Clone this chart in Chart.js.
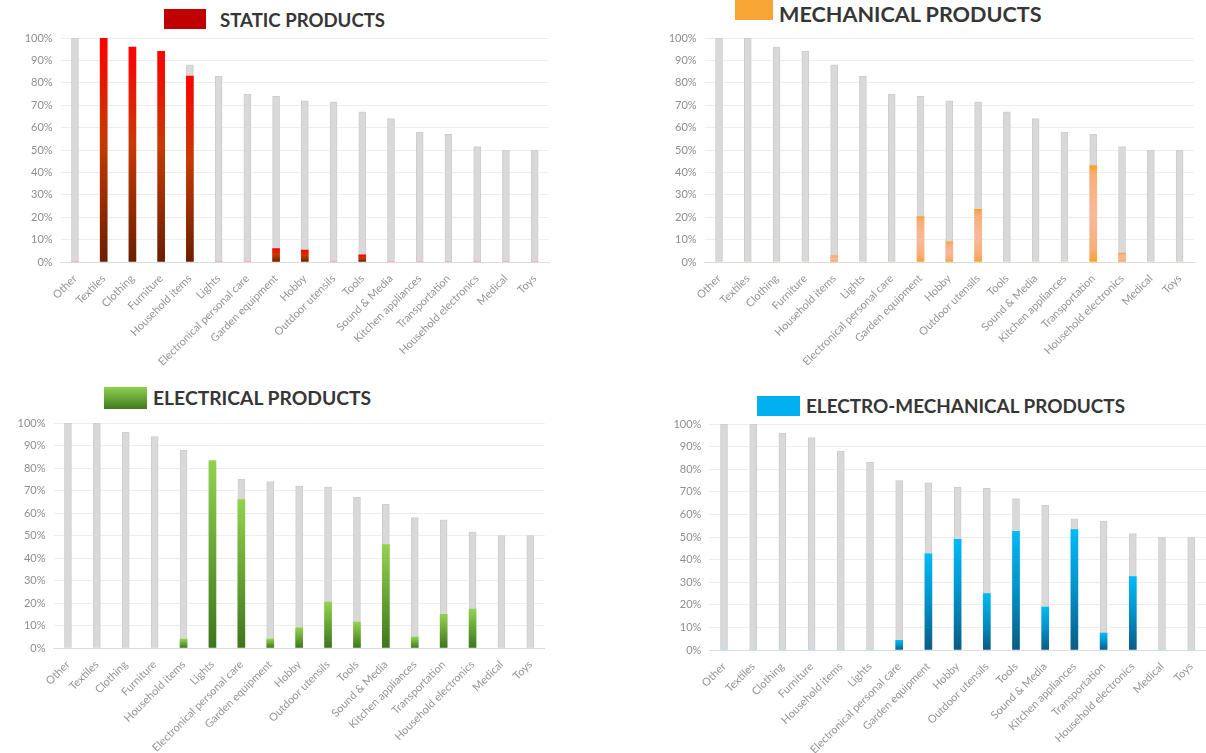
<!DOCTYPE html>
<html>
<head>
<meta charset="utf-8">
<script src="https://cdn.jsdelivr.net/npm/chart.js@4"></script>
<style>
  html, body { margin: 0; padding: 0; background: #fff; }
  body { width: 1206px; height: 753px; position: relative; overflow: hidden; font-family: Lato, sans-serif; }
  .panel { position: absolute; }
  .title { position: absolute; font-family: Lato, sans-serif; font-weight: bold; color: #363636; white-space: nowrap; line-height: 20px; }
  .box { position: absolute; }
</style>
</head>
<body>
<div class="box" style="left:164px;top:9px;width:42px;height:20px;background:#c00000;"></div>
<div class="title" style="left:220px;top:10px;font-size:18.6px;">STATIC PRODUCTS</div>
<div class="box" style="left:735px;top:0px;width:38px;height:20px;background:#f7a535;"></div>
<div class="title" style="left:779px;top:4px;font-size:21.6px;">MECHANICAL PRODUCTS</div>
<div class="box" style="left:104px;top:387px;width:43px;height:22px;background:linear-gradient(#8fd14f,#3f7a1f);"></div>
<div class="title" style="left:153px;top:388px;font-size:19.3px;">ELECTRICAL PRODUCTS</div>
<div class="box" style="left:757px;top:396px;width:43px;height:20px;background:#00b0f0;"></div>
<div class="title" style="left:806px;top:396px;font-size:18.9px;">ELECTRO-MECHANICAL PRODUCTS</div>

<div class="panel" style="left:0px;top:0px;width:560px;height:395px;"><canvas id="staticChart"></canvas></div>
<div class="panel" style="left:600px;top:0px;width:606px;height:395px;"><canvas id="mechChart"></canvas></div>
<div class="panel" style="left:0px;top:380px;width:560px;height:373px;"><canvas id="elecChart"></canvas></div>
<div class="panel" style="left:600px;top:380px;width:606px;height:373px;"><canvas id="emChart"></canvas></div>

<script>
const categories = ["Other", "Textiles", "Clothing", "Furniture", "Household items", "Lights",
  "Electronical personal care", "Garden equipment", "Hobby", "Outdoor utensils", "Tools",
  "Sound & Media", "Kitchen appliances", "Transportation", "Household electronics", "Medical", "Toys"];

// overall share per category (gray bars)
const totalShare = [100, 100, 96, 94, 88, 83, 75, 74, 72, 71.5, 67, 64, 58, 57, 51.5, 50, 50];

const staticShare = [0, 100, 96, 94, 83, 0, 0, 6, 5.3, 0, 3.2, 0, 0, 0, 0, 0, 0];
const mechanicalShare = [0, 0, 0, 0, 2.8, 0, 0, 20.3, 9, 23.5, 0, 0, 0, 43, 4, 0, 0];
const electricalShare = [0, 0, 0, 0, 4, 83.3, 66, 4, 9, 20.4, 11.5, 46, 4.8, 15, 17.3, 0, 0];
const electroMechShare = [0, 0, 0, 0, 0, 0, 4.3, 42.5, 49, 25, 52.5, 19, 53.3, 7.5, 32.5, 0, 0];

const yTicks = [0, 10, 20, 30, 40, 50, 60, 70, 80, 90, 100];

// gradient along each bar, top -> bottom
const barGradient = (stops) => (context) => {
  const chart = context.chart;
  const { ctx, chartArea } = chart;
  if (!chartArea) return stops[0][1];
  const v = context.raw;
  if (!v) return stops[0][1];
  const y = chart.scales.y;
  const top = y.getPixelForValue(v);
  const bottom = y.getPixelForValue(0);
  if (bottom - top < 1) return stops[0][1];
  const g = ctx.createLinearGradient(0, top, 0, bottom);
  stops.forEach(([p, c]) => g.addColorStop(p, c));
  return g;
};

const makeChart = (id, values, stops, box) => {
  const tickFont = { family: "Lato", size: 11 };
  return new Chart(document.getElementById(id), {
    type: "bar",
    data: {
      labels: categories,
      datasets: [
        {
          data: values,
          backgroundColor: barGradient(stops),
          borderWidth: 0,
          barThickness: 7,
          grouped: false,
        },
        {
          data: totalShare,
          backgroundColor: "#d9d9d9",
          borderColor: "#cdcdcd",
          borderWidth: 1,
          barThickness: 7,
          grouped: false,
        },
      ],
    },
    options: {
      responsive: true,
      maintainAspectRatio: false,
      animation: false,
      layout: {
        padding: { left: 0, top: box.top, right: box.right, bottom: 0 },
      },
      plugins: {
        legend: { display: false },
        tooltip: { enabled: false },
      },
      scales: {
        x: {
          offset: true,
          grid: { display: false },
          border: { display: true, color: "#dcdcdc" },
          ticks: {
            color: "#969696",
            font: tickFont,
            minRotation: 45,
            maxRotation: 45,
            autoSkip: false,
            padding: 2,
          },
          afterFit: (scale) => { scale.height = box.xHeight; },
        },
        y: {
          min: 0,
          max: 100,
          afterBuildTicks: (scale) => { scale.ticks = yTicks.map((v) => ({ value: v })); },
          grid: { color: "#eeeeee", drawTicks: false },
          border: { display: false },
          ticks: {
            color: "#8f8f8f",
            font: tickFont,
            padding: 8,
            callback: (v) => v + "%",
          },
          afterFit: (scale) => { scale.width = box.yWidth; },
        },
      },
    },
  });
};

makeChart("staticChart", staticShare,
  [[0, "#ff0000"], [0.45, "#c83a00"], [1, "#6b1e00"]],
  { top: 38, right: 11, yWidth: 60.6, xHeight: 133 });

makeChart("mechChart", mechanicalShare,
  [[0, "#f9a12e"], [0.1, "#f9ae78"], [0.5, "#fbb99c"], [0.85, "#f9ae78"], [1, "#f9a12e"]],
  { top: 38, right: 12, yWidth: 104.6, xHeight: 133 });

makeChart("elecChart", electricalShare,
  [[0, "#92d24f"], [0.5, "#67a534"], [1, "#3d761d"]],
  { top: 43, right: 15.2, yWidth: 53.5, xHeight: 105 });

makeChart("emChart", electroMechShare,
  [[0, "#00b9f6"], [0.5, "#0092c9"], [1, "#0a5c84"]],
  { top: 44, right: 0.2, yWidth: 109.4, xHeight: 103 });
</script>
</body>
</html>
